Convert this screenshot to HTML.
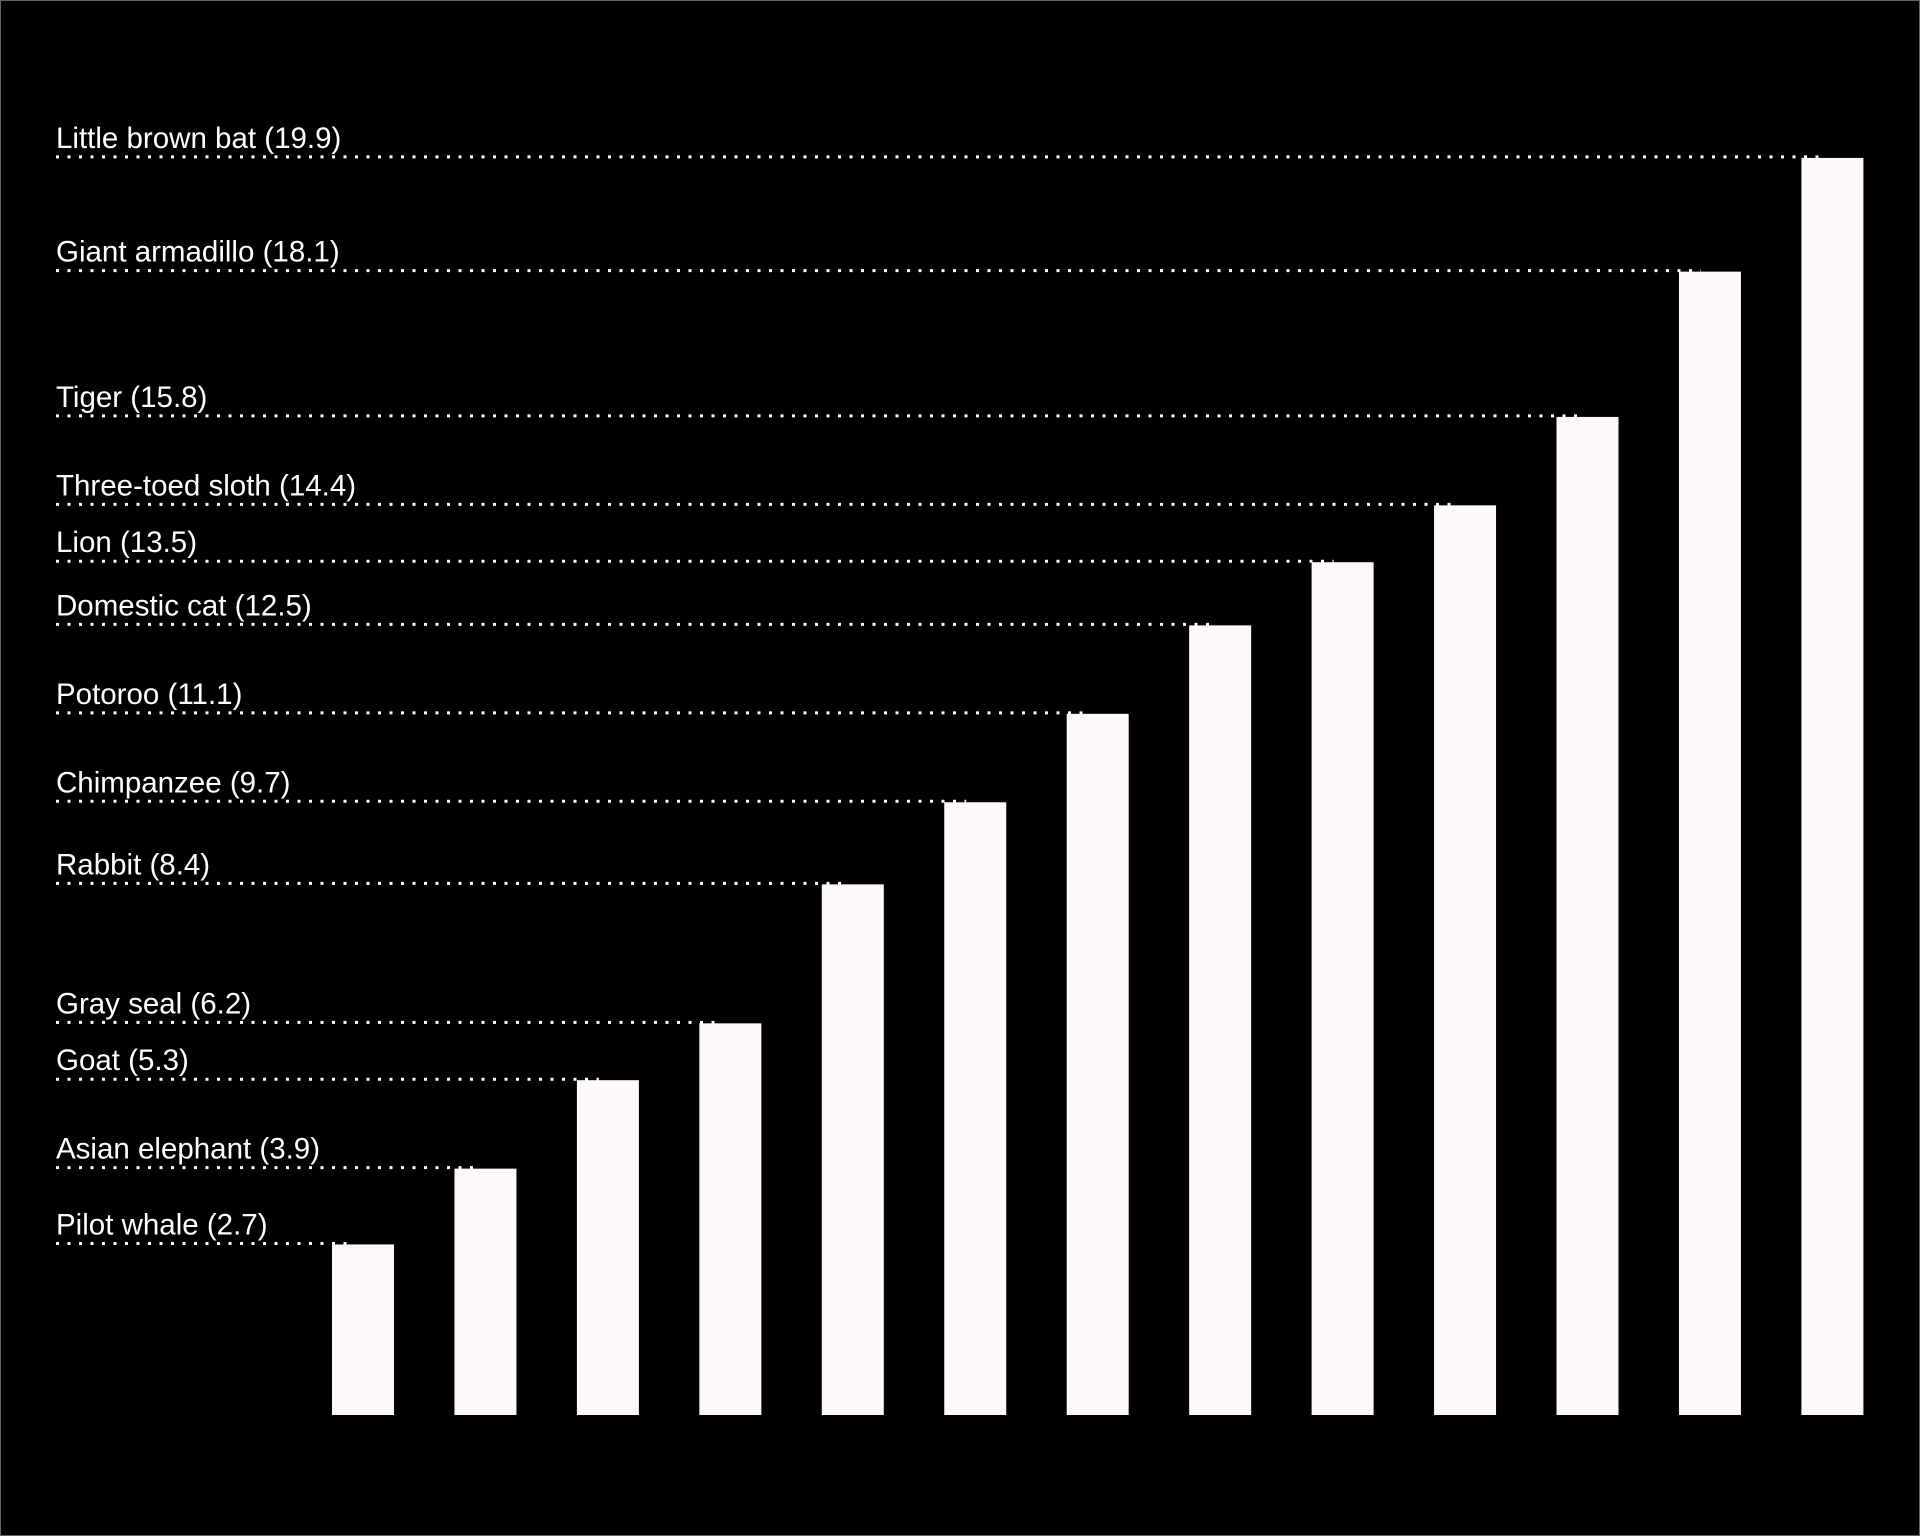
<!DOCTYPE html>
<html><head><meta charset="utf-8"><style>
html,body{margin:0;padding:0;background:#000;}
svg{display:block;}
text{font-family:"Liberation Sans",sans-serif;font-size:29.5px;fill:#fff;}
</style></head><body>
<svg id="chart" width="1920" height="1536" viewBox="0 0 1920 1536">
<rect x="0.5" y="0.5" width="1919" height="1535" fill="#000" stroke="#666" stroke-width="1"/>
<g id="marks"></g>
</svg>
<script>
const categories = ["Pilot whale","Asian elephant","Goat","Gray seal","Rabbit","Chimpanzee","Potoroo","Domestic cat","Lion","Three-toed sloth","Tiger","Giant armadillo","Little brown bat"];
const values = [2.7,3.9,5.3,6.2,8.4,9.7,11.1,12.5,13.5,14.4,15.8,18.1,19.9];
const NS = "http://www.w3.org/2000/svg";
const g = document.getElementById('marks');
const baseY = 1415, pxPerUnit = 63.17;
const x0 = 332, step = 122.45, bw = 62;
function yScale(v){ return baseY - v*pxPerUnit; }
function xScale(i){ return x0 + i*step; }
categories.forEach((c,i)=>{
  const v = values[i], y = yScale(v), x = xScale(i);
  const bar = document.createElementNS(NS,'rect');
  
  
  bar.setAttribute('x', x); bar.setAttribute('y', y);
  bar.setAttribute('width', bw); bar.setAttribute('height', baseY - y);
  bar.setAttribute('fill', '#fff8f8');
  g.appendChild(bar);
  const ln = document.createElementNS(NS,'line');
  
  
  ln.setAttribute('x1', 56); ln.setAttribute('x2', x + 22);
  ln.setAttribute('y1', y - 1); ln.setAttribute('y2', y - 1);
  ln.setAttribute('stroke', '#fff'); ln.setAttribute('stroke-width', '3');
  ln.setAttribute('stroke-dasharray', '3 8.5');
  g.appendChild(ln);
  const t = document.createElementNS(NS,'text');
  
  
  t.setAttribute('x', 56); t.setAttribute('y', y - 10);
  t.textContent = c + ' (' + v + ')';
  g.appendChild(t);
});
</script>
</body></html>
